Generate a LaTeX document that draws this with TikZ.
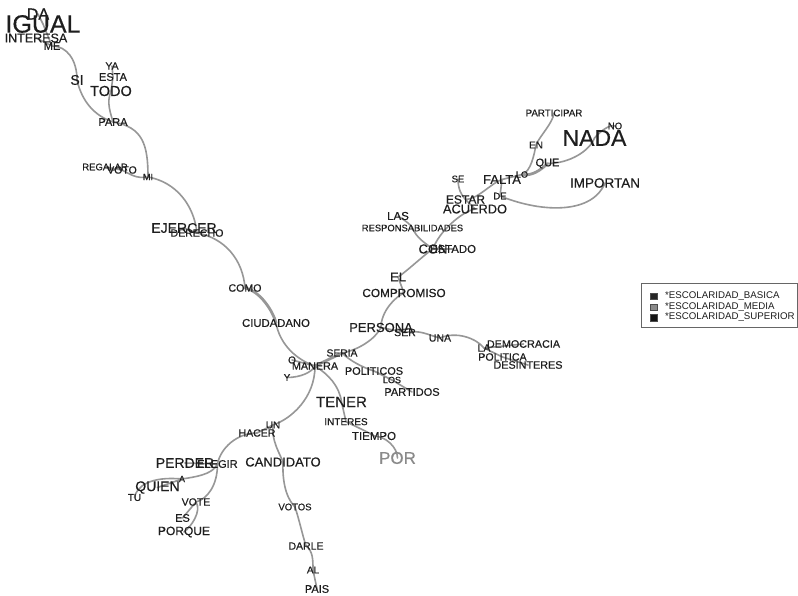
\documentclass[tikz,border=0pt]{standalone}
\usepackage{fontspec}
\setmainfont{Liberation Sans}[BoldFont=Liberation Sans, BoldFeatures={FakeBold=0.4}]
\usetikzlibrary{backgrounds}
\definecolor{txt}{HTML}{1E1E1E}
\definecolor{media}{HTML}{8A8A8A}
\definecolor{edge}{HTML}{979797}
\tikzset{
  wd/.style={font=\fontsize{#1}{#1}\selectfont\bfseries, text=txt, inner sep=0pt, anchor=center},
  ed/.style={draw=edge, line width=1.6pt, line cap=round},
  edthick/.style={draw=edge, line width=2.8pt, line cap=round},
  legsq/.style={minimum size=6.5pt, inner sep=0pt, draw=black!70, line width=0.5pt},
  legtxt/.style={font=\fontsize{9.7}{9.7}\selectfont, text=txt, inner sep=0pt, anchor=west}
}
\begin{document}
\begin{tikzpicture}[x=1pt,y=-1pt]
\useasboundingbox (0,0) rectangle (798,596);
% ---------- words ----------
\node[wd=16] (da) at (38,14) {DA};
\node[wd=25] (igual) at (43,24) {IGUAL};
\node[wd=12.5] (interesa) at (36,38) {INTERESA};
\node[wd=11] (me) at (52,46) {ME};
\node[wd=14] (si) at (77,80) {SI};
\node[wd=10.5] (ya) at (112,66) {YA};
\node[wd=11] (esta) at (113,77) {ESTA};
\node[wd=14.5] (todo) at (111,91) {TODO};
\node[wd=11] (para) at (113,122) {PARA};
\node[wd=9.5] (regalar) at (105,167) {REGALAR};
\node[wd=10.5] (voto) at (122,170) {VOTO};
\node[wd=9] (mi) at (148,177) {MI};
\node[wd=14] (ejercer) at (184,228) {EJERCER};
\node[wd=10.6] (derecho) at (197,233) {DERECHO};
\node[wd=10.6] (como) at (245,288) {COMO};
\node[wd=11.3] (ciudadano) at (276,323) {CIUDADANO};
\node[wd=10] (o) at (292,360) {O};
\node[wd=10.8] (manera) at (315,366) {MANERA};
\node[wd=10] (y) at (287,377.5) {Y};
\node[wd=10.3] (seria) at (342,353) {SERIA};
\node[wd=10.9] (politicos) at (374,371) {POLITICOS};
\node[wd=9] (los) at (392,380) {LOS};
\node[wd=11] (partidos) at (412,392) {PARTIDOS};
\node[wd=13] (persona) at (381,327.5) {PERSONA};
\node[wd=10.5] (ser) at (405,332.5) {SER};
\node[wd=10.5] (una) at (440,338) {UNA};
\node[wd=10.5] (la) at (484,348) {LA};
\node[wd=10.8] (democracia) at (523.5,344) {DEMOCRACIA};
\node[wd=10.6] (politica) at (502.5,357) {POLITICA};
\node[wd=10.8] (desinteres) at (528,365) {DESINTERES};
\node[wd=13] (el) at (398,277) {EL};
\node[wd=11.8] (compromiso) at (404,293) {COMPROMISO};
\node[wd=11.4] (estado) at (453,249) {ESTADO};
\node[wd=13] (con) at (433,249) {CON};
\node[wd=11.5] (las) at (398,216) {LAS};
\node[wd=9.4] (resp) at (412.5,228) {RESPONSABILIDADES};
\node[wd=12] (estar) at (465.5,199.5) {ESTAR};
\node[wd=12.8] (acuerdo) at (475,209) {ACUERDO};
\node[wd=9.5] (se) at (458,179) {SE};
\node[wd=13] (falta) at (502,179.5) {FALTA};
\node[wd=9.5] (de) at (500,196) {DE};
\node[wd=9] (lo) at (522,174.5) {LO};
\node[wd=11] (que) at (547.5,163.5) {QUE};
\node[wd=10] (en) at (536,145) {EN};
\node[wd=9.7] (participar) at (554,113) {PARTICIPAR};
\node[wd=23] (nada) at (594.5,138) {NADA};
\node[wd=9.5] (no) at (615,126) {NO};
\node[wd=13.5] (importan) at (605,183) {IMPORTAN};
\node[wd=15] (tener) at (341.5,402) {TENER};
\node[wd=10] (interes) at (346,421.7) {INTERES};
\node[wd=11.5] (tiempo) at (374,436) {TIEMPO};
\node[wd=17, text=media] (por) at (397.5,458) {POR};
\node[wd=10] (un) at (273,425) {UN};
\node[wd=10.5] (hacer) at (257,433) {HACER};
\node[wd=13] (candidato) at (283,462) {CANDIDATO};
\node[wd=9.5] (votos) at (295,507) {VOTOS};
\node[wd=10.5] (darle) at (306,546) {DARLE};
\node[wd=10] (al) at (313,570) {AL};
\node[wd=11] (pais) at (317,589) {PAIS};
\node[wd=14] (perder) at (185,463) {PERDER};
\node[wd=11] (elegir) at (217.5,464) {ELEGIR};
\node[wd=9] (a) at (182,479) {A};
\node[wd=14] (quien) at (157.5,487.5) {QUIEN};
\node[wd=10] (tu) at (134.5,497.5) {TU};
\node[wd=10.5] (vote) at (196,502) {VOTE};
\node[wd=11] (es) at (182.5,518) {ES};
\node[wd=12] (porque) at (184,532) {PORQUE};
% ---------- legend ----------
\node[draw=black!60, line width=0.6pt, minimum width=156pt, minimum height=44pt, inner sep=0pt, anchor=north west] (legend) at (641,283) {};
\node[legsq, fill=black!85] (sq1) at (653.5,296) {};
\node[legsq, fill=media] (sq2) at (653.5,307) {};
\node[legsq, fill=black!92] (sq3) at (653.5,317.5) {};
\node[legtxt] (lt1) at (665,296) {*ESCOLARIDAD\_BASICA};
\node[legtxt] (lt2) at (665,307) {*ESCOLARIDAD\_MEDIA};
\node[legtxt] (lt3) at (665,317.5) {*ESCOLARIDAD\_SUPERIOR};
% ---------- connectors ----------
\begin{scope}[on background layer]
\fill[white] (0,0) rectangle (798,596);
\draw[ed] (da.center) -- (igual.center);
\draw[ed] (igual.center) -- (me.center);
\draw[ed] (interesa.center) -- (me.center);
\draw[ed] (me.center) .. controls +(15,0) and +(0,-20) .. (si.center);
\draw[ed] (si.center) .. controls +(5,22) and +(-18,-6) .. (para.center);
\draw[ed] (ya.center) -- (esta.center);
\draw[ed] (esta.center) -- (todo.center);
\draw[ed] (todo.center) .. controls +(-5,12) and +(-2,-8) .. (para.center);
\draw[ed] (para.center) .. controls +(30,5) and +(0,-32) .. (mi.center);
\draw[ed] (mi.center) .. controls +(-12,2) and +(8,4) .. (voto.center);
\draw[ed] (voto.center) -- (regalar.center);
\draw[ed] (mi.center) .. controls +(28,5) and +(-3,-28) .. (derecho.center);
\draw[ed] (ejercer.center) -- (derecho.center);
\draw[ed] (derecho.center) .. controls +(28,5) and +(-2,-28) .. (como.center);
\draw[edthick] (como.center) .. controls +(15,3) and +(-3,-12) .. (ciudadano.center);
\draw[ed] (ciudadano.center) .. controls +(4,22) and +(-18,-6) .. (manera.center);
\draw[ed] (o.center) -- (manera.center);
\draw[ed] (y.center) .. controls +(14,0) and +(-3,6) .. (manera.center);
\draw[edthick] (manera.center) -- (seria.center);
\draw[ed] (seria.center) .. controls +(16,-3) and +(-6,12) .. (persona.center);
\draw[ed] (persona.center) .. controls +(0,-16) and +(-9,4) .. (compromiso.center);
\draw[ed] (compromiso.center) -- (el.center);
\draw[ed] (el.center) .. controls +(8,-5) and +(-8,5) .. (con.center);
\draw[ed] (con.center) -- (estado.center);
\draw[ed] (las.center) .. controls +(6,4) and +(-2,-4) .. (resp.center);
\draw[ed] (resp.center) .. controls +(4,10) and +(-8,-6) .. (con.center);
\draw[ed] (con.center) .. controls +(6,-18) and +(-12,2) .. (acuerdo.center);
\draw[ed] (acuerdo.center) -- (estar.center);
\draw[ed] (se.center) .. controls +(0,10) and +(-4,-4) .. (estar.center);
\draw[ed] (estar.center) .. controls +(12,0) and +(-10,3) .. (falta.center);
\draw[ed] (falta.center) -- (de.center);
\draw[ed] (de.center) .. controls +(45,18) and +(-12,30) .. (importan.center);
\draw[ed] (falta.center) -- (lo.center);
\draw[edthick] (lo.center) .. controls +(10,2) and +(-6,6) .. (que.center);
\draw[ed] (lo.center) .. controls +(9,-3) and +(-2,10) .. (en.center);
\draw[ed] (en.center) .. controls +(3,-8) and +(-1,10) .. (participar.center);
\draw[ed] (que.center) .. controls +(22,0) and +(-5,13) .. (nada.center);
\draw[ed] (nada.center) .. controls +(6,-7) and +(-5,-2) .. (no.center);
\draw[ed] (persona.center) -- (ser.center);
\draw[ed] (ser.center) .. controls +(15,-3) and +(-12,-3) .. (una.center);
\draw[ed] (una.center) .. controls +(16,-7) and +(-8,-10) .. (la.center);
\draw[ed] (la.center) -- (democracia.center);
\draw[ed] (la.center) -- (politica.center);
\draw[ed] (politica.center) -- (desinteres.center);
\draw[ed] (seria.center) .. controls +(8,8) and +(-10,-3) .. (politicos.center);
\draw[ed] (politicos.center) -- (los.center);
\draw[ed] (los.center) -- (partidos.center);
\draw[ed] (manera.center) .. controls +(13,8) and +(-2,-16) .. (tener.center);
\draw[ed] (tener.center) -- (interes.center);
\draw[ed] (interes.center) .. controls +(8,4) and +(-6,-4) .. (tiempo.center);
\draw[ed] (tiempo.center) .. controls +(11,0) and +(0,-11) .. (por.center);
\draw[ed] (manera.center) .. controls +(0,32) and +(18,-6) .. (un.center);
\draw[ed] (un.center) -- (hacer.center);
\draw[ed] (un.center) .. controls +(-2,15) and +(-3,-8) .. (candidato.center);
\draw[ed] (hacer.center) .. controls +(-20,0) and +(3,-16) .. (elegir.center);
\draw[ed] (elegir.center) -- (perder.center);
\draw[ed] (elegir.center) .. controls +(-5,11) and +(12,-2) .. (a.center);
\draw[ed] (a.center) .. controls +(-32,-3) and +(2,-11) .. (tu.center);
\draw[ed] (quien.center) -- (a.center);
\draw[ed] (elegir.center) .. controls +(0,22) and +(11,-3) .. (vote.center);
\draw[ed] (vote.center) .. controls +(6,9) and +(7,-5) .. (porque.center);
\draw[ed] (vote.center) -- (es.center);
\draw[ed] (candidato.center) .. controls +(-1,26) and +(-6,-6) .. (votos.center);
\draw[ed] (votos.center) .. controls +(4,12) and +(-3,-9) .. (darle.center);
\draw[ed] (darle.center) .. controls +(7,5) and +(0,-10) .. (al.center);
\draw[ed] (al.center) -- (pais.center);
\end{scope}
\end{tikzpicture}
\end{document}
